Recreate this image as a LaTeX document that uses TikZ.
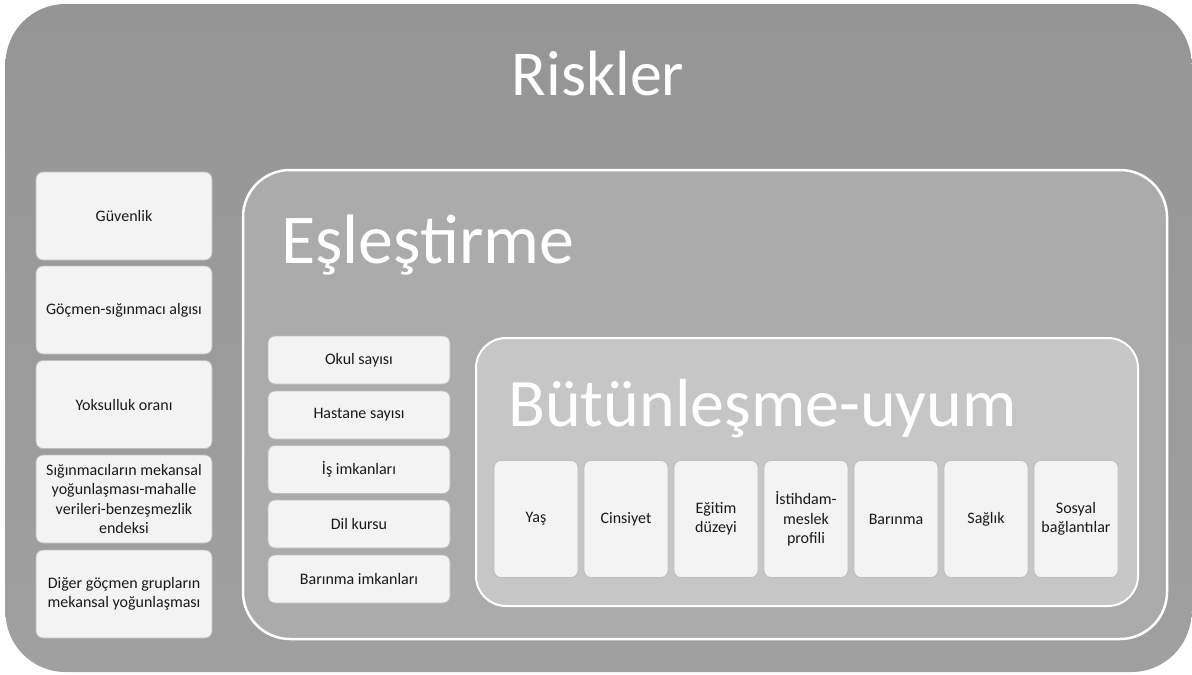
\documentclass[tikz,border=0pt]{standalone}
\usepackage{fontspec}
\setmainfont{Carlito}
\usepackage{tikz}
\usetikzlibrary{positioning}
\definecolor{riskbg}{RGB}{149,149,149}
\definecolor{riskbglow}{RGB}{160,160,160}
\definecolor{matchbg}{RGB}{171,171,171}
\definecolor{integbg}{RGB}{198,198,198}
\definecolor{itembg}{RGB}{243,243,243}
\definecolor{itemline}{RGB}{190,190,190}
\definecolor{itemtext}{RGB}{25,25,25}

\begin{document}
\begin{tikzpicture}[x=1pt, y=-1pt,
    item/.style={rectangle, rounded corners=7pt, draw=itemline, line width=0.8pt, fill=itembg, align=center, inner sep=2pt, text=itemtext, font=\fontsize{16}{19.5}\selectfont},
    ritem/.style={item, minimum width=176pt, minimum height=88pt},
    mitem/.style={item, minimum width=182pt, minimum height=48pt},
    iitem/.style={item, minimum width=84pt, minimum height=117pt},
    title/.style={text=white, inner sep=0pt}
]
\useasboundingbox (0,0) rectangle (1192,675);

% outer frame and nested groups
\node[rectangle, rounded corners=60pt, top color=riskbg, bottom color=riskbglow, minimum width=1186pt, minimum height=668pt] (risk) at (598.5,338) {};
\node[rectangle, rounded corners=47pt, draw=white, line width=2.5pt, fill=matchbg, minimum width=924pt, minimum height=469pt] (match) at (705,404.5) {};
\node[rectangle, rounded corners=30pt, draw=white, line width=2pt, fill=integbg, minimum width=662pt, minimum height=268pt] (integ) at (807,472) {};

\node[title, anchor=base, font=\fontsize{64}{70}\selectfont] (risktitle) at (598,95) {Riskler};
\node[title, anchor=base west, font=\fontsize{70}{76}\selectfont] (matchtitle) at (281,263) {Eşleştirme};
\node[title, anchor=base west, font=\fontsize{68}{74}\selectfont] (integtitle) at (508,426) {Bütünleşme-uyum};

% risk items
\node[ritem] (r1) at (124,216) {Güvenlik};
\node[ritem] (r2) at (124,310) {Göçmen-sığınmacı algısı};
\node[ritem] (r3) at (124,404.5) {Yoksulluk oranı};
\node[ritem] (r4) at (124,499) {Sığınmacıların mekansal\\yoğunlaşması-mahalle\\verileri-benzeşmezlik\\endeksi};
\node[ritem] (r5) at (124,594) {Diğer göçmen grupların\\mekansal yoğunlaşması};

% matching items
\node[mitem] (m1) at (359,360) {Okul sayısı};
\node[mitem] (m2) at (359,415) {Hastane sayısı};
\node[mitem] (m3) at (359,469.5) {İş imkanları};
\node[mitem] (m4) at (359,524) {Dil kursu};
\node[mitem] (m5) at (359,579) {Barınma imkanları};

% integration items
\node[iitem] (i1) at (536,519) {Yaş};
\node[iitem] (i2) at (626,519) {Cinsiyet};
\node[iitem] (i3) at (716,519) {Eğitim\\düzeyi};
\node[iitem] (i4) at (806,519) {İstihdam-\\meslek\\profili};
\node[iitem] (i5) at (896,519) {Barınma};
\node[iitem] (i6) at (986,519) {Sağlık};
\node[iitem] (i7) at (1076,519) {Sosyal\\bağlantılar};

\end{tikzpicture}
\end{document}
